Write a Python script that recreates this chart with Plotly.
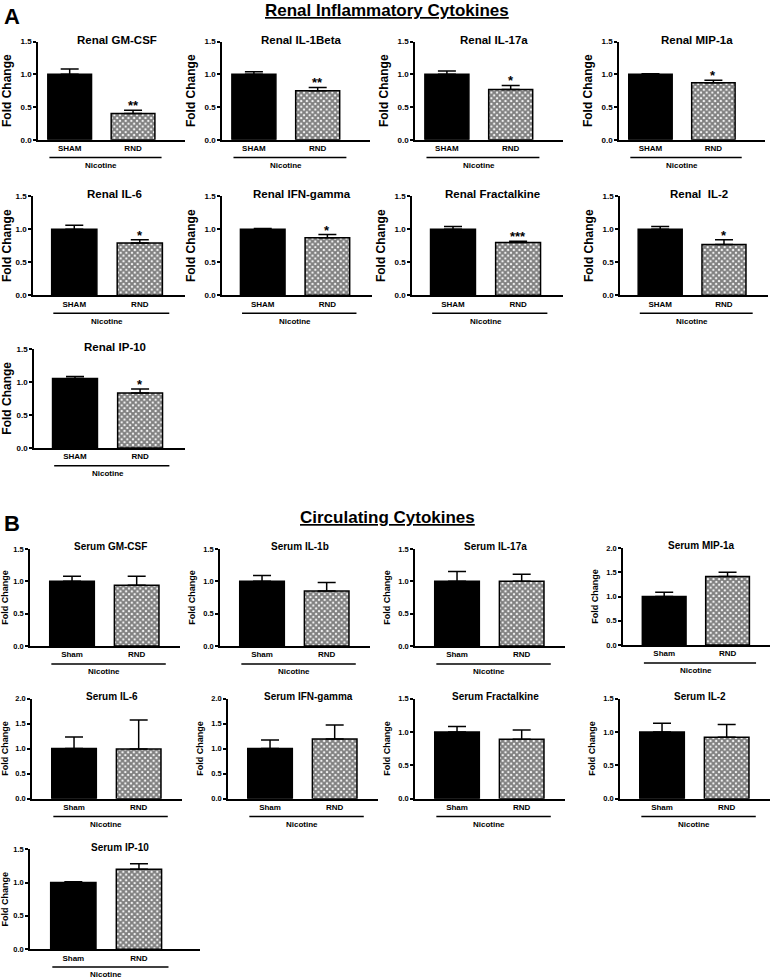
import plotly.graph_objects as go

# ---- data ----
renal_names = ["Renal GM-CSF", "Renal IL-1Beta", "Renal IL-17a", "Renal MIP-1a",
               "Renal IL-6", "Renal IFN-gamma", "Renal Fractalkine", "Renal  IL-2",
               "Renal IP-10"]
renal_sham = [1.0, 1.0, 1.0, 1.0, 1.0, 1.0, 1.0, 1.0, 1.05]
renal_sham_err = [0.08, 0.04, 0.05, 0.01, 0.06, 0.01, 0.04, 0.04, 0.03]
renal_rnd = [0.40, 0.75, 0.77, 0.87, 0.79, 0.87, 0.80, 0.77, 0.83]
renal_rnd_err = [0.05, 0.05, 0.06, 0.04, 0.05, 0.05, 0.02, 0.07, 0.06]
renal_stars = ["**", "**", "*", "*", "*", "*", "***", "*", "*"]

serum_names = ["Serum GM-CSF", "Serum IL-1b", "Serum IL-17a", "Serum MIP-1a",
               "Serum IL-6", "Serum IFN-gamma", "Serum Fractalkine", "Serum IL-2",
               "Serum IP-10"]
serum_sham = [1.0, 1.0, 1.0, 1.0, 1.0, 1.0, 1.0, 1.0, 1.0]
serum_sham_err = [0.08, 0.09, 0.15, 0.09, 0.23, 0.17, 0.08, 0.13, 0.01]
serum_rnd = [0.94, 0.85, 1.0, 1.41, 0.99, 1.19, 0.89, 0.92, 1.2]
serum_rnd_err = [0.14, 0.13, 0.11, 0.09, 0.58, 0.28, 0.14, 0.19, 0.08]
serum_ymax = [1.5, 1.5, 1.5, 2.0, 2.0, 2.0, 1.5, 1.5, 1.5]

renal_groups = ["SHAM", "RND"]
serum_groups = ["Sham", "RND"]
treatment = "Nicotine"

# ---- layout (pixel boxes: y-axis x, x-axis end, top tick y, zero y, x-range) ----
W, H = 774, 979
renal_boxes = [(38, 185, 38, 137, -0.5, 1.82), (222, 370, 38, 137, -0.5, 1.82),
               (415, 563, 38, 137, -0.5, 1.82), (619, 765, 38, 137, -0.5, 1.82),
               (33, 185, 194, 294, -0.63, 1.69), (222, 372, 194, 294, -0.63, 1.69),
               (412, 563, 194, 294, -0.63, 1.69), (620, 768, 194, 294, -0.63, 1.69),
               (34, 185, 348, 448, -0.63, 1.69)]
serum_boxes = [(30, 180, 550, 648, -0.65, 1.67), (220, 370, 550, 648, -0.65, 1.67),
               (415, 565, 550, 648, -0.65, 1.67), (623, 770, 549, 647, -0.65, 1.67),
               (32, 182, 701, 802, -0.65, 1.67), (228, 378, 701, 802, -0.65, 1.67),
               (415, 565, 701, 802, -0.65, 1.67), (620, 770, 701, 802, -0.65, 1.67),
               (30, 200, 853, 954, -0.66, 1.93)]

FONT = "Liberation Sans, Arial, sans-serif"

fig = go.Figure()
layout = dict(shapes=[], annotations=[])


def px_x(p):
    return p / W


def px_y(p):
    return 1 - p / H


def add_panel(k, title, groups, sham, sham_err, rnd, rnd_err, ymax, box, star, renal):
    xa = "x" if k == 1 else f"x{k}"
    ya = "y" if k == 1 else f"y{k}"
    x0, x1, yt, yb, xs, xe = box
    err_style = dict(type="data", symmetric=False, arrayminus=[0], color="black",
                     thickness=1.5, width=9)
    fig.add_trace(go.Bar(x=[0], y=[sham], width=0.69, xaxis=xa, yaxis=ya,
                         marker=dict(color="black", line=dict(color="black", width=1.5)),
                         error_y=dict(array=[sham_err], **err_style), showlegend=False))
    fig.add_trace(go.Bar(x=[1], y=[rnd], width=0.69, xaxis=xa, yaxis=ya,
                         marker=dict(color="white", line=dict(color="black", width=1.5),
                                     pattern=dict(shape="x", size=4, solidity=0.75,
                                                  fgcolor="black", bgcolor="white")),
                         error_y=dict(array=[rnd_err], **err_style), showlegend=False))
    tick_size = 8 if renal else 7.5
    ticks = [0, 0.5, 1.0, 1.5] if ymax <= 1.5 else [0, 0.5, 1.0, 1.5, 2.0]
    layout["xaxis" if k == 1 else f"xaxis{k}"] = dict(
        domain=[px_x(x0), px_x(x1)], range=[xs, xe], anchor=ya, tickvals=[0, 1], ticktext=groups,
        showline=True, linecolor="black", linewidth=1.5, showgrid=False, zeroline=False,
        ticks="", tickfont=dict(family=FONT, size=8, color="black", weight="bold"),
        fixedrange=True)
    layout["yaxis" if k == 1 else f"yaxis{k}"] = dict(
        domain=[px_y(yb), px_y(yt)], range=[0, ymax], anchor=xa, tickvals=ticks,
        ticktext=[f"{t:.1f}" for t in ticks], showline=True, linecolor="black", linewidth=1.5,
        ticks="outside", ticklen=3, tickwidth=1.5, tickcolor="black", showgrid=False,
        zeroline=False, tickfont=dict(family=FONT, size=tick_size, color="black", weight="bold"),
        title=dict(text="Fold Change", standoff=6,
                   font=dict(family=FONT, size=12 if renal else 9, color="black", weight="bold")),
        fixedrange=True)
    # panel title
    layout["annotations"].append(dict(
        text=title, xref="paper", yref="paper", x=px_x((x0 + x1) / 2 + 5), y=px_y(yt - 2),
        xanchor="center", yanchor="middle", showarrow=False,
        font=dict(family=FONT, size=11.5 if renal else 10, color="black", weight="bold")))
    # treatment bracket line and label
    ly = yb + 18
    layout["shapes"].append(dict(type="line", xref=xa, yref="paper", x0=-0.32, x1=1.45,
                                 y0=px_y(ly), y1=px_y(ly), line=dict(color="black", width=1.5)))
    layout["annotations"].append(dict(
        text=treatment, xref=xa, yref="paper", x=0.5, y=px_y(ly + 8), xanchor="center",
        yanchor="middle", showarrow=False,
        font=dict(family=FONT, size=8, color="black", weight="bold")))
    if star:
        layout["annotations"].append(dict(
            text=star, xref=xa, yref=ya, x=1, y=rnd + rnd_err, xanchor="center",
            yanchor="bottom", yshift=-5, showarrow=False,
            font=dict(family=FONT, size=13, color="black", weight="bold")))


k = 1
for i in range(9):
    add_panel(k, renal_names[i], renal_groups, renal_sham[i], renal_sham_err[i],
              renal_rnd[i], renal_rnd_err[i], 1.5, renal_boxes[i], renal_stars[i], True)
    k += 1
for i in range(9):
    add_panel(k, serum_names[i], serum_groups, serum_sham[i], serum_sham_err[i],
              serum_rnd[i], serum_rnd_err[i], serum_ymax[i], serum_boxes[i], None, False)
    k += 1

# section headers
for letter, head, yy in [("A", "Renal Inflammatory Cytokines", 8), ("B", "Circulating Cytokines", 519)]:
    layout["annotations"].append(dict(
        text=letter, xref="paper", yref="paper", x=px_x(2), y=px_y(yy + 5), xanchor="left",
        yanchor="middle", showarrow=False,
        font=dict(family=FONT, size=22, color="black", weight="bold")))
    layout["annotations"].append(dict(
        text=f"<u>{head}</u>", xref="paper", yref="paper", x=px_x(387), y=px_y(yy - 1),
        xanchor="center", yanchor="middle", showarrow=False,
        font=dict(family=FONT, size=17, color="black", weight="bold")))

fig.update_layout(width=W, height=H, margin=dict(l=0, r=0, t=0, b=0),
                  paper_bgcolor="white", plot_bgcolor="white", barmode="overlay",
                  showlegend=False, **layout)

fig.write_html("out.html", config={"displayModeBar": False},
               post_script="document.body.style.margin='0';")
